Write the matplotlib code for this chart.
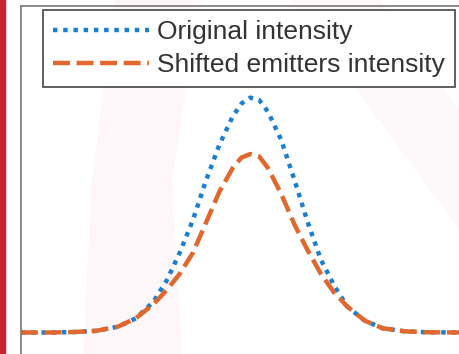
import numpy as np
import matplotlib.pyplot as plt
from matplotlib.patches import Rectangle, Polygon

plt.rcParams['font.family'] = ['Liberation Sans', 'DejaVu Sans']

# positions across the emitter (arb. units) and normalised intensities
pos = [-5.2, -4.5, -4.0, -3.5, -3.0, -2.6, -2.2, -1.9, -1.6, -1.3, -1.0, -0.7,
       -0.4, -0.2, 0.0, 0.2, 0.4, 0.7, 1.0, 1.3, 1.6, 1.9, 2.2, 2.6, 3.0, 3.5,
       4.0, 4.8]
orig = [0.0, 0.0, 0.002, 0.007, 0.025, 0.06, 0.13, 0.22, 0.34, 0.48, 0.65, 0.80,
        0.92, 0.975, 1.0, 0.99, 0.94, 0.82, 0.65, 0.47, 0.31, 0.20, 0.11, 0.05,
        0.018, 0.005, 0.001, 0.0]
shifted = [0.0, 0.0, 0.002, 0.007, 0.025, 0.06, 0.12, 0.18, 0.25, 0.34, 0.47, 0.60,
           0.70, 0.745, 0.76, 0.75, 0.70, 0.59, 0.46, 0.35, 0.25, 0.17, 0.11, 0.05,
           0.018, 0.005, 0.001, 0.0]
labels = ['Original intensity', 'Shifted emitters intensity']

W, H = 460, 354
fig = plt.figure(figsize=(W / 100, H / 100), dpi=100)

# side bar and faint background logo
fig.patches.append(Rectangle((0, 0), 5 / W, 1, transform=fig.transFigure,
                             color='#c8232f', zorder=0))
band = [(83, 354), (92, 180), (115, 0), (200, 0), (172, 180), (182, 354)]
fig.patches.append(Polygon([(x / W, 1 - y / H) for x, y in band], closed=True,
                           transform=fig.transFigure, color='#fdf7f9', lw=0, zorder=0))
diag = [(290, 0), (380, 0), (460, 110), (460, 230)]
fig.patches.append(Polygon([(x / W, 1 - y / H) for x, y in diag], closed=True,
                           transform=fig.transFigure, color='#fdf8f9', lw=0, zorder=0))

ax = fig.add_axes([21 / W, -0.0056, 441 / W, 0.9886])
ax.set_zorder(1)
ax.patch.set_alpha(0)
ax.plot(pos, orig, color='#1a7fd0', lw=3.2, linestyle=(0, (1, 1.3)), label=labels[0])
ax.plot(pos, shifted, color='#e2672c', lw=3.2, linestyle=(0, (3.8, 1.5)), label=labels[1])
ax.set_xlim(-5.2, 4.8)
ax.set_ylim(-0.1, 1.39)
ax.set_xticks([])
ax.set_yticks([])
for s in ax.spines.values():
    s.set_color('#777777')
    s.set_linewidth(1.2)

leg = ax.legend(loc='upper left', bbox_to_anchor=(22 / 441, 1 - 4 / 350), fontsize=19,
                handlelength=3.65, handletextpad=0.3, borderpad=0.37, labelspacing=0.35,
                fancybox=False, framealpha=1, borderaxespad=0)
leg.get_frame().set_edgecolor('#444444')
leg.get_frame().set_linewidth(1.2)
for t in leg.get_texts():
    t.set_color('#333333')

fig.savefig('out.png', dpi=100)
